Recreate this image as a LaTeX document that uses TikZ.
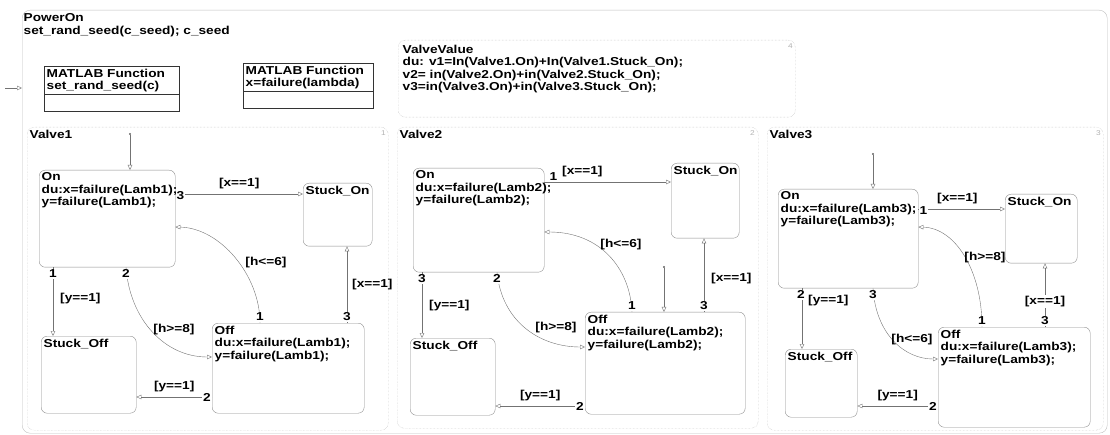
\documentclass[tikz,border=0pt]{standalone}
\usepackage{fontspec}
\setmainfont{Liberation Sans}[FakeStretch=1.19]
\usetikzlibrary{arrows.meta}

\begin{document}
\begin{tikzpicture}[x=1pt,y=-1pt,
	every node/.style={font=\bfseries\fontsize{11.5}{12.5}\selectfont,inner sep=0},
	chart/.style={draw=black!30,densely dotted,rounded corners=7,anchor=north west},
	state/.style={draw=black!45,rounded corners=6,anchor=north west},
	stxt/.style={anchor=north west,align=left,inner sep=2.5},
	fcn/.style={draw=black!80,anchor=north west,line width=.8},
	tr/.style={draw=black!55,-{Triangle[open,length=5,width=4.5]}},
	dflt/.style={draw=black!55,{Circle[length=2]}-{Triangle[open,length=5,width=4.5]}},
	num/.style={fill=white,inner sep=1},
	grd/.style={inner sep=1},
	ordr/.style={font=\fontsize{7}{7}\selectfont,text=black!30}]
	\useasboundingbox (0,0) rectangle (1110,435);
	% top level chart
	\node[draw=black!25,rounded corners=8,anchor=north west,minimum width=1085,minimum height=423] (power) at (22,10) {};
	\node[stxt,align=left] (powert) at (21,11) {PowerOn\\set\_rand\_seed(c\_seed); c\_seed};
	\coordinate (p0) at (5,88);
	\draw[tr] (p0) -- (p0 -| power.west);
	\node[fcn,minimum width=135,minimum height=45] (mf1) at (44,66) {};
	\node[stxt,align=left] (mf1t) at (mf1.north west) {MATLAB Function\\set\_rand\_seed(c)};
	\draw[black!80,line width=.8] (mf1.west |- 0,94) -- (mf1.east |- 0,94);
	\node[fcn,minimum width=130,minimum height=45] (mf2) at (243,63) {};
	\node[stxt,align=left] (mf2t) at (mf2.north west) {MATLAB Function\\x=failure(lambda)};
	\draw[black!80,line width=.8] (mf2.west |- 0,91) -- (mf2.east |- 0,91);
	\node[chart,minimum width=397,minimum height=77] (vv) at (398,40) {};
	\node[stxt] (vvt) at (400,42) {ValveValue\\du: v1=In(Valve1.On)+In(Valve1.Stuck\_On);\\v2= in(Valve2.On)+in(Valve2.Stuck\_On);\\v3=in(Valve3.On)+in(Valve3.Stuck\_On);};
	\node[ordr,anchor=north east] (vvo) at (793,43) {4};

	% Valve1
	\node[chart,minimum width=361,minimum height=303] (valve1) at (27,127) {};
	\node[stxt] (valve1t) at (valve1.north west) {Valve1};
	\node[ordr,anchor=north east] (valve1o) at (386,130) {1};
	\node[state,minimum width=136,minimum height=97] (on1) at (39,170) {};
	\node[stxt] (on1t) at (on1.north west) {On\\du:x=failure(Lamb1);\\y=failure(Lamb1);};
	\node[state,minimum width=69,minimum height=63] (st1on) at (303,183) {};
	\node[stxt] (st1ont) at (st1on.north west) {Stuck\_On};
	\node[state,minimum width=95,minimum height=77] (st1off) at (41,336) {};
	\node[stxt] (st1offt) at (st1off.north west) {Stuck\_Off};
	\node[state,minimum width=152,minimum height=90] (off1) at (212,323) {};
	\node[stxt] (off1t) at (off1.north west) {Off\\du:x=failure(Lamb1);\\y=failure(Lamb1);};
	\coordinate (d1) at (130,133);
	\draw[dflt] (d1) -- (d1 |- on1.north);
	\draw[tr] (on1.east |- 0,194) -- node[grd,above=4]{[x==1]} (st1on.west |- 0,194) node[num,pos=0,right,yshift=-2]{3};
	\draw[tr] (53,0 |- on1.south) -- node[grd,right=6,pos=.45]{[y==1]} (53,0 |- st1off.north) node[num,pos=0,below=1]{1};
	\draw[tr] (260,0 |- off1.north) node[num,above=1]{1} .. controls (260,275) and (220,228) .. (on1.east |- 0,227);
	\node[grd] (g1a) at (266,263) {[h<=6]};
	\draw[tr] (126,0 |- on1.south) node[num,below=1]{2} .. controls (130,320) and (165,357) .. (off1.west |- 0,357);
	\node[grd] (g1b) at (174,330) {[h>=8]};
	\draw[tr] (off1.west |- 0,397) -- node[grd,above=4]{[y==1]} (st1off.east |- 0,397) node[num,pos=0,left]{2};
	\draw[tr] (347,0 |- off1.north) -- node[grd,right=4]{[x==1]} (347,0 |- st1on.south) node[num,pos=0,above=1]{3};

	% Valve2
	\node[chart,minimum width=361,minimum height=301] (valve2) at (397,127) {};
	\node[stxt] (valve2t) at (valve2.north west) {Valve2};
	\node[ordr,anchor=north east] (valve2o) at (755,130) {2};
	\node[state,minimum width=131,minimum height=104] (on2) at (413,168) {};
	\node[stxt] (on2t) at (on2.north west) {On\\du:x=failure(Lamb2);\\y=failure(Lamb2);};
	\node[state,minimum width=68,minimum height=75] (st2on) at (671,163) {};
	\node[stxt] (st2ont) at (st2on.north west) {Stuck\_On};
	\node[state,minimum width=85,minimum height=77] (st2off) at (410,338) {};
	\node[stxt] (st2offt) at (st2off.north west) {Stuck\_Off};
	\node[state,minimum width=160,minimum height=102] (off2) at (585,312) {};
	\node[stxt] (off2t) at (off2.north west) {Off\\du:x=failure(Lamb2);\\y=failure(Lamb2);};
	\coordinate (d2) at (664,266);
	\draw[dflt] (d2) -- (d2 |- off2.north);
	\draw[tr] (on2.east |- 0,182) -- node[grd,above=4,pos=.3]{[x==1]} (st2on.west |- 0,182) node[num,pos=0,right,xshift=4,yshift=5]{1};
	\draw[tr] (422,0 |- on2.south) -- node[grd,right=6,pos=.5]{[y==1]} (422,0 |- st2off.north) node[num,pos=0,below=1]{3};
	\draw[tr] (632,0 |- off2.north) node[num,above=1]{1} .. controls (630,268) and (600,232) .. (on2.east |- 0,232);
	\node[grd] (g2a) at (621,245) {[h<=6]};
	\draw[tr] (497,0 |- on2.south) node[num,below=1]{2} .. controls (502,322) and (540,347) .. (off2.west |- 0,347);
	\node[grd] (g2b) at (556,328) {[h>=8]};
	\draw[tr] (off2.west |- 0,406) -- node[grd,above=4]{[y==1]} (st2off.east |- 0,406) node[num,pos=0,left]{2};
	\draw[tr] (704,0 |- off2.north) -- node[grd,right=6,pos=.45]{[x==1]} (704,0 |- st2on.south) node[num,pos=0,above=1]{3};

	% Valve3
	\node[chart,minimum width=336,minimum height=303] (valve3) at (767,127) {};
	\node[stxt] (valve3t) at (valve3.north west) {Valve3};
	\node[ordr,anchor=north east] (valve3o) at (1101,130) {3};
	\node[state,minimum width=140,minimum height=99] (on3) at (778,189) {};
	\node[stxt] (on3t) at (on3.north west) {On\\du:x=failure(Lamb3);\\y=failure(Lamb3);};
	\node[state,minimum width=72,minimum height=69] (st3on) at (1005,194) {};
	\node[stxt] (st3ont) at (st3on.north west) {Stuck\_On};
	\node[state,minimum width=72,minimum height=68] (st3off) at (785,349) {};
	\node[stxt] (st3offt) at (st3off.north west) {Stuck\_Off};
	\node[state,minimum width=152,minimum height=100] (off3) at (938,327) {};
	\node[stxt] (off3t) at (off3.north west) {Off\\du:x=failure(Lamb3);\\y=failure(Lamb3);};
	\coordinate (d3) at (873,153);
	\draw[dflt] (d3) -- (d3 |- on3.north);
	\draw[tr] (on3.east |- 0,209) -- node[grd,above=4,pos=.45]{[x==1]} (st3on.west |- 0,209) node[num,pos=0,right,yshift=-2]{1};
	\draw[tr] (802,0 |- on3.south) -- node[grd,right=5,pos=.2]{[y==1]} (802,0 |- st3off.north) node[num,pos=0,below left=1,xshift=5]{2};
	\draw[tr] (982,0 |- off3.north) node[num,above=1]{1} .. controls (982,270) and (955,228) .. (on3.east |- 0,227);
	\node[grd] (g3a) at (985,258) {[h>=8]};
	\draw[tr] (873,0 |- on3.south) node[num,below=1]{3} .. controls (876,335) and (905,359) .. (off3.west |- 0,359);
	\node[grd] (g3b) at (912,340) {[h<=6]};
	\draw[tr] (off3.west |- 0,406) -- node[grd,above=4]{[y==1]} (st3off.east |- 0,406) node[num,pos=0,left]{2};
	\draw[tr] (1045,0 |- off3.north) -- node[grd,fill=white,pos=.4]{[x==1]} (1045,0 |- st3on.south) node[num,pos=0,above=1]{3};
\end{tikzpicture}
\end{document}
